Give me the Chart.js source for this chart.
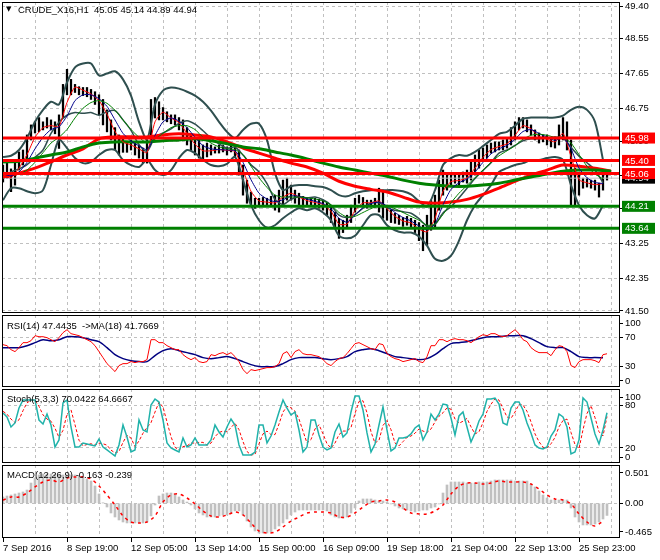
<!DOCTYPE html>
<html><head><meta charset="utf-8">
<script src="https://cdn.jsdelivr.net/npm/chart.js@4.4.0/dist/chart.umd.min.js"></script>
<style>
body{margin:0;background:#fff;}
#wrap{position:relative;width:660px;height:560px;overflow:hidden;font-family:'Liberation Sans',Arial,sans-serif;}
canvas{position:absolute;left:0;}
.t{position:absolute;font-size:9.5px;color:#000;white-space:pre;line-height:11px;}
</style></head><body>
<div id="wrap">
<canvas id="cMain" width="660" height="315" style="top:0"></canvas>
<canvas id="cRsi" width="660" height="74" style="top:314px"></canvas>
<canvas id="cSto" width="660" height="76" style="top:388px"></canvas>
<canvas id="cMacd" width="660" height="96" style="top:464px"></canvas>
<div class="t" style="left:6px;top:4px;font-family:'DejaVu Sans';font-size:7px">▼</div>
<div class="t" style="left:18px;top:4px">CRUDE_X16,H1  45.05 45.14 44.89 44.94</div>
<div class="t" style="left:7px;top:320px">RSI(14) 47.4435  -&gt;MA(18) 41.7669</div>
<div class="t" style="left:7px;top:393px">Stoch(5,3,3) 70.0422 64.6667</div>
<div class="t" style="left:7px;top:469px">MACD(12,26,9) -0.163 -0.239</div>
</div>
<script>
// ---------- DATA ----------
const xLabels = ['7 Sep 2016','8 Sep 19:00','12 Sep 05:00','13 Sep 14:00','15 Sep 00:00','16 Sep 09:00','19 Sep 18:00','21 Sep 04:00','22 Sep 13:00','25 Sep 23:00'];
const priceTicks = [41.50,42.35,43.25,44.15,45.00,45.90,46.75,47.65,48.55,49.40];
const levels = [45.98,45.40,45.06,44.21,43.64];
const bidPrice = 44.94;

const priceHigh = [45.28,45.41,45.18,45.34,45.62,45.67,46.06,46.32,46.40,46.51,
46.40,46.51,46.45,46.40,46.58,47.37,47.76,47.50,47.37,47.31,
47.29,47.29,47.24,47.18,47.10,46.98,46.71,46.45,46.25,46.06,
45.98,45.88,45.93,45.85,45.80,45.72,45.93,46.98,47.03,46.92,
46.77,46.66,46.58,46.58,46.51,46.45,46.25,46.06,45.93,45.93,
45.80,45.85,45.80,45.75,45.80,45.80,45.75,45.80,45.75,45.67,
45.28,44.89,44.58,44.42,44.42,44.44,44.42,44.47,44.50,44.63,
44.89,44.94,44.76,44.63,44.55,44.47,44.44,44.42,44.42,44.39,
44.37,44.29,44.19,44.06,43.90,43.85,43.98,44.24,44.42,44.50,
44.44,44.37,44.37,44.42,44.68,44.63,44.24,44.11,44.03,43.98,
43.92,43.95,43.90,43.85,43.79,43.72,43.98,44.37,44.50,44.89,
45.15,45.02,45.02,45.07,45.02,45.10,45.15,45.41,45.54,45.67,
45.72,45.80,45.85,45.88,45.88,45.93,45.98,46.25,46.40,46.51,
46.51,46.45,46.32,46.19,46.11,46.06,46.06,45.98,46.01,46.32,
46.51,46.40,45.93,45.20,45.02,44.94,44.94,44.89,44.89,44.81,
45.02,45.14];
const priceLow = [44.84,44.94,44.59,44.76,45.15,45.28,45.41,45.93,46.11,46.14,
46.19,46.24,46.19,46.09,45.71,46.50,47.10,47.10,47.16,47.10,
47.08,47.05,46.98,46.85,46.58,46.32,46.14,45.93,45.67,45.54,
45.61,45.61,45.67,45.54,45.46,45.33,45.33,45.93,46.50,46.45,
46.45,46.40,46.35,46.32,46.19,45.93,45.80,45.67,45.54,45.46,
45.41,45.49,45.54,45.59,45.59,45.62,45.54,45.62,45.49,45.02,
44.50,44.29,44.24,44.16,44.21,44.24,44.24,44.21,44.11,44.06,
44.24,44.37,44.37,44.29,44.24,44.19,44.24,44.21,44.19,44.16,
44.11,43.98,43.79,43.64,43.38,43.53,43.64,43.79,44.06,44.29,
44.24,44.16,44.19,44.19,44.06,43.90,43.85,43.79,43.77,43.74,
43.69,43.72,43.64,43.53,43.32,43.06,43.19,43.59,43.64,44.11,
44.50,44.63,44.76,44.81,44.76,44.84,44.81,44.89,45.02,45.20,
45.41,45.46,45.59,45.62,45.67,45.67,45.72,45.80,45.93,46.19,
46.24,46.14,46.06,45.93,45.85,45.88,45.80,45.75,45.72,45.80,
45.93,45.67,44.24,44.24,44.50,44.68,44.71,44.68,44.63,44.45,
44.63,44.89];

const maFast = [45.0,44.95,45.2,45.55,46.0,46.25,46.3,46.28,46.9,47.3,
47.22,47.12,46.95,46.6,46.15,45.88,45.8,45.7,45.6,46.4,
46.65,46.5,46.38,46.1,45.82,45.65,45.65,45.68,45.66,45.63,
45.15,44.6,44.35,44.32,44.3,44.45,44.55,44.45,44.36,44.31,
44.26,44.08,43.75,43.75,44.1,44.3,44.3,44.35,44.15,43.95,
43.83,43.78,43.62,43.55,43.9,44.6,44.85,44.88,44.95,45.2,
45.48,45.68,45.76,45.83,46.05,46.3,46.22,46.02,45.95,45.88,
46.1,45.5,44.9,44.82,44.77,44.8];
const maMid = [45.05,45.0,45.1,45.35,45.7,46.0,46.2,46.27,46.55,46.95,
47.1,47.1,47.0,46.8,46.45,46.1,45.9,45.78,45.68,46.05,
46.4,46.5,46.42,46.25,46.0,45.78,45.7,45.68,45.67,45.65,
45.35,44.9,44.55,44.4,44.33,44.38,44.48,44.47,44.4,44.34,
44.28,44.15,43.9,43.8,43.98,44.18,44.28,44.32,44.22,44.05,
43.92,43.83,43.7,43.6,43.75,44.25,44.65,44.82,44.92,45.1,
45.35,45.57,45.7,45.79,45.95,46.15,46.2,46.1,46.0,45.92,
46.0,45.7,45.2,44.95,44.83,44.8];
const maSlow = [45.1,45.05,45.05,45.15,45.35,45.6,45.85,46.0,46.2,46.5,
46.75,46.9,46.95,46.88,46.7,46.45,46.2,46.0,45.85,45.95,
46.1,46.25,46.3,46.3,46.2,46.0,45.85,45.75,45.7,45.68,
45.55,45.25,44.95,44.7,44.5,44.45,44.45,44.45,44.43,44.4,
44.35,44.25,44.05,43.93,43.95,44.05,44.15,44.22,44.22,44.15,
44.05,43.95,43.85,43.72,43.75,44.0,44.3,44.55,44.75,44.95,
45.15,45.35,45.52,45.65,45.78,45.95,46.05,46.08,46.05,46.0,
46.0,45.85,45.55,45.25,45.05,44.92];

const bbUpper = [45.49,45.52,45.67,45.98,46.40,46.71,46.92,46.85,47.42,47.81,
47.91,47.91,47.60,47.65,47.71,47.50,47.08,46.40,45.95,46.85,
47.21,47.29,47.26,47.18,47.08,46.92,46.69,46.40,46.14,45.98,
46.19,46.35,46.35,45.93,45.07,44.63,44.73,44.76,44.76,44.73,
44.71,44.63,44.50,44.47,44.55,44.60,44.63,44.63,44.63,44.63,
44.60,44.52,44.34,44.21,44.63,45.28,45.46,45.54,45.52,45.62,
45.77,45.93,46.09,46.14,46.30,46.48,46.51,46.51,46.51,46.51,
46.56,46.71,46.79,46.71,46.40,45.41];
const bbMiddle = [44.93,45.10,45.18,45.29,45.48,45.67,46.10,46.39,46.57,46.64,
46.62,46.64,46.57,46.66,46.69,46.45,46.18,45.81,45.64,46.00,
46.11,46.22,46.36,46.43,46.34,46.17,45.98,45.83,45.72,45.74,
45.54,45.29,45.10,44.80,44.39,44.26,44.39,44.46,44.43,44.45,
44.38,44.24,43.98,43.92,44.00,44.16,44.30,44.30,44.17,44.11,
44.07,44.03,43.89,43.70,43.74,44.04,44.20,44.43,44.68,44.93,
45.14,45.34,45.59,45.67,45.79,45.91,45.96,45.96,45.98,46.00,
45.98,45.74,45.51,45.34,45.15,44.82];
const bbLower = [44.37,44.68,44.68,44.60,44.55,44.63,45.28,45.93,45.72,45.46,
45.33,45.36,45.54,45.67,45.67,45.41,45.28,45.23,45.41,45.15,
45.02,45.15,45.46,45.67,45.59,45.41,45.28,45.25,45.31,45.49,
44.89,44.24,43.85,43.66,43.72,43.90,44.05,44.16,44.11,44.16,
44.05,43.85,43.45,43.38,43.45,43.72,43.98,43.98,43.72,43.59,
43.53,43.53,43.43,43.19,42.85,42.80,42.93,43.32,43.85,44.24,
44.50,44.76,45.10,45.20,45.28,45.33,45.41,45.41,45.46,45.49,
45.41,44.76,44.24,43.98,43.90,44.24];

const maSlowThick = [45.36,45.38,45.46,45.54,45.62,45.75,45.85,45.88,45.88,45.88,
45.91,45.93,45.96,45.91,45.83,45.75,45.70,45.62,45.54,45.44,
45.33,45.23,45.15,45.07,44.99,44.89,44.81,44.76,44.73,44.73,
44.76,44.81,44.89,44.97,45.05,45.12,45.15,45.15,45.12];
const maFastThick = [44.97,45.07,45.20,45.36,45.54,45.70,45.96,46.01,46.01,46.01,
46.06,46.09,46.06,46.01,45.88,45.72,45.59,45.46,45.33,45.23,
45.07,44.86,44.73,44.65,44.58,44.45,44.32,44.29,44.32,44.39,
44.52,44.68,44.86,45.02,45.15,45.28,45.25,45.20,45.12];

const rsiValues = [60.0,58.6,53.1,50.4,55.9,62.8,62.8,65.5,72.4,71.0,
71.0,69.7,66.9,64.1,69.7,76.6,80.7,75.2,73.8,72.4,
69.7,66.9,64.1,58.6,50.4,42.1,33.8,28.3,22.8,31.1,
33.8,33.8,36.6,35.2,36.6,36.6,39.3,66.9,66.9,62.8,
62.8,58.6,55.9,53.1,53.1,46.2,42.1,39.3,42.1,36.6,
35.2,36.6,46.2,44.8,47.6,49.0,46.2,49.0,43.5,36.6,
25.5,20.0,25.5,24.2,25.5,26.9,28.3,28.3,29.7,33.8,
47.6,50.4,42.1,50.4,53.1,47.6,46.2,46.2,44.8,43.5,
39.3,33.8,31.1,36.6,40.7,42.1,47.6,54.5,61.4,62.8,
60.0,57.3,54.5,53.1,61.4,60.0,47.6,43.5,40.7,39.3,
36.6,37.9,39.3,40.7,36.6,35.2,43.5,58.6,58.6,66.9,
66.9,64.1,66.9,68.3,66.9,66.9,65.5,62.8,66.9,71.0,
73.8,72.4,75.2,75.2,72.4,71.0,72.4,76.6,80.7,75.2,
66.9,64.1,55.9,51.7,49.0,49.0,49.0,44.8,53.1,58.6,
57.3,50.4,31.1,28.3,36.6,39.3,39.3,39.3,37.9,35.2,
46.2,47.44];
const rsiMa = [55.9,55.9,55.9,58.6,62.8,66.9,65.5,66.9,71.0,71.0,
69.7,66.9,64.1,55.9,46.2,40.7,37.9,36.6,36.6,45.0,
51.7,54.5,51.7,49.0,46.2,42.1,40.7,42.1,43.5,40.7,
36.6,32.4,29.7,29.7,29.7,33.8,39.3,42.1,42.1,42.1,
40.7,39.3,40.7,43.5,50.4,53.1,54.5,51.7,47.6,43.5,
42.1,40.7,39.3,40.7,46.2,54.5,61.4,62.8,64.1,66.9,
69.7,71.0,71.0,72.4,72.4,72.4,68.3,62.8,57.3,55.9,
55.9,50.4,43.5,42.1,42.1,41.77];
const rsiTicks = [9.8,30,70,89.9];
const rsiTickLabels = ['0','30','70','100'];

const stochK = [69.6,64.0,49.8,55.5,76.7,88.1,88.1,88.1,88.1,59.7,
54.1,68.2,52.6,21.4,31.4,83.8,88.1,49.8,21.4,21.4,
27.1,25.7,24.3,22.9,32.8,21.4,17.2,12.9,8.7,24.3,
52.6,35.6,14.3,17.2,59.7,45.5,42.7,81.0,89.5,85.2,
59.7,27.1,20.0,17.2,14.3,34.2,21.4,24.3,34.2,24.3,
24.3,24.3,31.4,52.6,42.7,35.6,49.8,61.1,52.6,24.3,
10.1,10.1,10.1,14.3,52.6,52.6,27.1,37.0,52.6,71.1,
88.1,76.7,66.8,71.1,45.5,14.3,21.4,59.7,59.7,38.5,
21.4,17.2,20.0,42.7,54.1,35.6,41.3,71.1,93.8,93.8,
73.9,41.3,14.3,25.7,52.6,78.2,45.5,15.8,20.0,34.2,
34.2,35.6,39.9,48.4,52.6,31.4,42.7,68.2,59.7,68.2,
82.4,81.0,62.6,38.5,65.4,71.1,49.8,28.5,41.3,58.3,
68.2,89.5,89.5,90.9,82.4,55.5,52.6,76.7,85.2,85.2,
73.9,55.5,41.3,24.3,20.0,18.6,21.4,37.0,45.5,68.2,
64.0,49.8,11.5,14.3,31.4,90.9,85.2,62.6,39.9,25.7,
45.5,70.04];
const stochD = [72,68,61,56,60,73,84,88,88,79,
67,61,58,48,35,45,68,74,53,31,
23,25,26,24,27,26,24,17,13,15,
28,38,34,22,30,41,49,56,71,85,
78,57,36,21,17,22,23,27,27,28,
28,24,27,36,42,44,43,49,55,46,
29,15,10,11,26,40,44,39,39,54,
71,79,77,72,61,44,27,32,47,53,
40,26,20,27,39,44,44,49,69,86,
87,70,43,27,31,52,59,46,27,23,
29,35,37,41,47,44,42,47,57,65,
70,77,75,61,55,58,62,50,40,43,
56,72,82,90,88,76,64,62,71,82,
81,72,57,40,29,21,20,26,35,50,
59,61,42,25,19,46,69,80,63,43,
37,64.67];
const stochTicks = [7.2,20,80,92.3];
const stochTickLabels = ['0','20','80','100'];

const macdHist = [0.085,0.098,0.111,0.125,0.138,0.152,0.178,0.272,0.340,0.380,
0.393,0.393,0.393,0.393,0.380,0.380,0.380,0.380,0.380,0.366,
0.353,0.326,0.299,0.232,0.125,0.004,-0.050,-0.130,-0.184,-0.224,
-0.251,-0.264,-0.264,-0.264,-0.264,-0.264,-0.251,-0.170,-0.023,0.098,
0.125,0.138,0.138,0.125,0.085,0.044,0.017,-0.023,-0.076,-0.130,
-0.157,-0.184,-0.184,-0.184,-0.170,-0.157,-0.157,-0.130,-0.103,-0.103,
-0.157,-0.238,-0.318,-0.372,-0.399,-0.399,-0.399,-0.385,-0.345,-0.305,
-0.264,-0.211,-0.157,-0.117,-0.090,-0.090,-0.090,-0.090,-0.090,-0.090,
-0.090,-0.103,-0.157,-0.184,-0.197,-0.197,-0.184,-0.130,-0.063,0.031,
0.058,0.058,0.058,0.044,0.031,0.031,0.017,-0.009,-0.036,-0.063,
-0.076,-0.090,-0.103,-0.117,-0.103,-0.090,-0.090,-0.063,-0.050,-0.009,
0.138,0.246,0.286,0.286,0.286,0.286,0.272,0.272,0.272,0.286,
0.286,0.286,0.299,0.313,0.313,0.313,0.313,0.313,0.299,0.299,
0.299,0.299,0.259,0.219,0.165,0.111,0.071,0.044,0.044,0.044,
0.044,0.044,-0.063,-0.184,-0.251,-0.291,-0.291,-0.291,-0.278,-0.251,
-0.211,-0.163];
const macdSignal = [0.044,0.085,0.085,0.138,0.219,0.286,0.313,0.286,0.340,0.353,
0.353,0.326,0.232,0.111,-0.023,-0.170,-0.251,-0.264,-0.251,-0.170,
0.017,0.111,0.125,0.071,-0.009,-0.103,-0.170,-0.184,-0.157,-0.117,
-0.157,-0.264,-0.372,-0.399,-0.385,-0.318,-0.238,-0.184,-0.130,-0.117,
-0.117,-0.130,-0.184,-0.184,-0.130,-0.050,0.017,0.031,0.044,0.017,
-0.063,-0.130,-0.143,-0.143,-0.103,-0.023,0.125,0.232,0.272,0.272,
0.259,0.272,0.299,0.286,0.286,0.286,0.259,0.192,0.111,0.058,
0.044,-0.009,-0.143,-0.251,-0.305,-0.239];
const macdTicks = [-0.385,0,0.407];
const macdTickLabels = ['-0.465','0.00','0.501'];

// ---------- RENDERING ----------
const FONT = "'Liberation Sans', Arial, sans-serif";
const FSIZE = 9.5;
Chart.defaults.font.family = FONT;
Chart.defaults.font.size = FSIZE;
const X_MIN = -0.25, X_MAX = 154.25;
const xGrid = []; for (let v = 0; v <= 152; v += 8) xGrid.push(v);
const GRID = '#C0C0C0', NONE = 'rgba(0,0,0,0)';

const pts = (arr, step) => arr.map((v, i) => ({x: i * step, y: v}));
const line = (arr, step, color, width, extra) => Object.assign({
  type: 'line', data: pts(arr, step), borderColor: color, borderWidth: width,
  pointRadius: 0, fill: false, tension: 0
}, extra || {});
const flat = (v, color, width, order) => ({
  type: 'line', data: [{x: X_MIN, y: v}, {x: X_MAX, y: v}], borderColor: color,
  borderWidth: width, pointRadius: 0, fill: false, order
});

function xScale(showLabels, h) {
  return {
    type: 'linear', min: X_MIN, max: X_MAX, offset: false,
    afterBuildTicks: s => { s.ticks = xGrid.map(v => ({value: v})); },
    afterFit: s => { s.height = h; s.paddingLeft = 0; s.paddingRight = 0; },
    border: {display: false, dash: [3, 3]},
    grid: {
      offset: false,
      color: c => (c.tick && c.tick.value === 0) ? NONE : GRID,
      drawTicks: showLabels, tickLength: 4, tickBorderDash: [],
      tickColor: c => (c.tick && c.tick.value % 16 === 0) ? '#000' : NONE
    },
    ticks: {
      display: showLabels, autoSkip: false, maxRotation: 0, minRotation: 0, align: 'start',
      padding: 1, color: '#000', font: {family: FONT, size: FSIZE},
      callback: v => (v % 16 === 0 ? xLabels[v / 16] : '')
    }
  };
}
function yScale(min, max, tickVals, labelFn, gridFn) {
  return {
    type: 'linear', position: 'right', min, max,
    afterBuildTicks: s => { s.ticks = tickVals.map(v => ({value: v})); },
    afterFit: s => { s.width = 40; s.paddingTop = 0; s.paddingBottom = 0; },
    border: {display: false, dash: [3, 3]},
    grid: {color: gridFn || GRID, tickLength: 3, tickColor: '#000', tickBorderDash: []},
    ticks: {padding: 2, color: '#000', font: {family: FONT, size: FSIZE}, callback: labelFn}
  };
}
const frame = {id: 'frame', afterDraw(chart) {
  const {ctx, chartArea: a} = chart;
  ctx.save(); ctx.strokeStyle = '#000'; ctx.lineWidth = 1;
  ctx.strokeRect(Math.round(a.left) + 0.5, Math.round(a.top) + 0.5,
    Math.round(a.right - a.left) - 1, Math.round(a.bottom - a.top) - 1);
  ctx.restore();
}};
function opts(x, y, pad) {
  return {
    responsive: false, animation: false, events: [],
    layout: {padding: pad},
    plugins: {legend: {display: false}, tooltip: {enabled: false}},
    scales: {x, y}
  };
}

// main chart
const levelColors = ['#FF0000', '#FF0000', '#FF0000', '#008000', '#008000'];
const levelLabels = {id: 'levelLabels', afterDraw(chart) {
  const {ctx, chartArea: a, scales: {y}} = chart;
  ctx.save(); ctx.font = FSIZE + 'px ' + FONT; ctx.textBaseline = 'middle'; ctx.textAlign = 'left';
  const items = [{v: bidPrice, c: '#000'}].concat(levels.map((v, i) => ({v, c: levelColors[i]})));
  items.forEach(it => {
    const py = y.getPixelForValue(it.v);
    ctx.fillStyle = it.c; ctx.fillRect(a.right + 2, py - 5.5, 33, 11);
    ctx.fillStyle = '#fff'; ctx.fillText(it.v.toFixed(2), a.right + 5, py + 0.5);
  });
  ctx.restore();
}};
const DARK = '#2F4F4F';
new Chart(document.getElementById('cMain'), {
  type: 'line',
  data: {datasets: [
    {type: 'bar', data: priceHigh.map((h, i) => ({x: i, y: [priceLow[i], h]})), backgroundColor: '#000', barThickness: 1.6, order: 10},
    line(bbUpper, 2, DARK, 2, {order: 8, tension: 0.3}),
    line(bbLower, 2, DARK, 2, {order: 8, tension: 0.3}),
    line(bbMiddle, 2, DARK, 1.5, {order: 8, tension: 0.3}),
    flat(bidPrice, '#C0C0C0', 1, 9),
    line(maSlowThick, 4, '#008000', 3, {order: 6, tension: 0.3}),
    line(maFastThick, 4, '#FF0000', 3, {order: 6, tension: 0.3}),
    line(maSlow, 2, '#008000', 1, {order: 4, tension: 0.2}),
    line(maMid, 2, '#00008B', 1, {order: 4, tension: 0.2}),
    line(maFast, 2, '#FF0000', 1, {order: 4, tension: 0.2}),
    ...levels.map((v, i) => flat(v, levelColors[i], 3, 2))
  ]},
  options: opts(xScale(false, 0), yScale(41.446, 49.505, priceTicks, v => v.toFixed(2)), {left: 2, top: 2, bottom: 2, right: 0}),
  plugins: [frame, levelLabels]
});

// RSI
new Chart(document.getElementById('cRsi'), {
  type: 'line',
  data: {datasets: [
    line(rsiValues, 1, '#FF0000', 1),
    line(rsiMa, 2, '#000080', 1.5, {tension: 0.3})
  ]},
  options: opts(xScale(false, 0), yScale(1.5, 101, rsiTicks, (v, i) => rsiTickLabels[i],
    c => (c.tick && (c.tick.value === 30 || c.tick.value === 70)) ? GRID : NONE), {left: 2, top: 1, bottom: 1, right: 0}),
  plugins: [frame]
});

// Stochastic
new Chart(document.getElementById('cSto'), {
  type: 'line',
  data: {datasets: [
    line(stochK, 1, '#20B2AA', 1.5),
    line(stochD, 1, '#FF0000', 1, {borderDash: [3, 2]})
  ]},
  options: opts(xScale(false, 0), yScale(-1.3, 103.7, stochTicks, (v, i) => stochTickLabels[i],
    c => (c.tick && (c.tick.value === 20 || c.tick.value === 80)) ? GRID : NONE), {left: 2, top: 1, bottom: 1, right: 0}),
  plugins: [frame]
});

// MACD
new Chart(document.getElementById('cMacd'), {
  type: 'line',
  data: {datasets: [
    {type: 'bar', data: pts(macdHist, 1), backgroundColor: '#C0C0C0', barThickness: 2, order: 5},
    line(macdSignal, 2, '#FF0000', 1.5, {borderDash: [3, 4], tension: 0.3, order: 1})
  ]},
  options: opts(xScale(true, 22), yScale(-0.466, 0.514, macdTicks, (v, i) => macdTickLabels[i],
    c => (c.tick && c.tick.value === 0) ? GRID : NONE), {left: 2, top: 1, bottom: 0, right: 0}),
  plugins: [frame]
});
</script>
</body></html>
